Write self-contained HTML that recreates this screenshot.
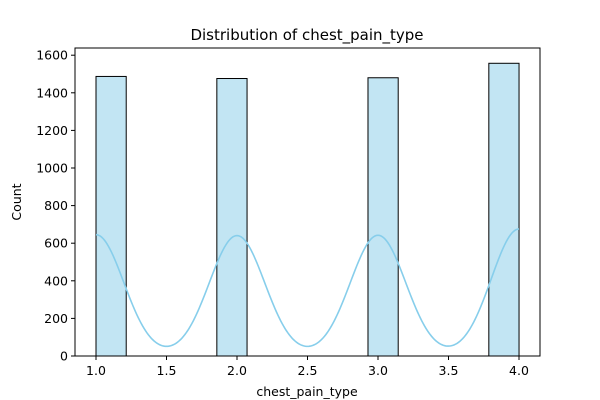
<!DOCTYPE html>
<html><head><meta charset="utf-8"><style>
body{margin:0;background:#fff;}
svg{display:block;font-family:"DejaVu Sans","Liberation Sans",sans-serif;}
</style></head><body>
<svg id="chart" width="600" height="400" viewBox="0 0 600 400">
<text x="307" y="40" text-anchor="middle" font-size="15">Distribution of chest_pain_type</text>
<g id="bars"></g>
<path id="kde" fill="none" stroke="#87ceeb" stroke-width="1.6"/>
<rect x="75" y="48" width="465" height="308" fill="none" stroke="#000" stroke-width="1"/>
<g id="xticks"></g>
<g id="yticks"></g>
<text x="307" y="396" text-anchor="middle" font-size="12.5">chest_pain_type</text>
<text transform="translate(21,202) rotate(-90)" text-anchor="middle" font-size="12.5">Count</text>
</svg>
<script>
const categories = [1, 2, 3, 4];
const binStarts = [1.0, 1.857, 2.929, 3.786];
const counts = [1487, 1476, 1480, 1557];
const xTicks = ["1.0", "1.5", "2.0", "2.5", "3.0", "3.5", "4.0"];
const yTicks = [0, 200, 400, 600, 800, 1000, 1200, 1400, 1600];
const binWidth = 3 / 14;
const bandwidth = 0.197;

const NS = "http://www.w3.org/2000/svg";
const xs = v => 96 + (v - 1) * 141;
const ys = v => 356 - v * 0.188;
function mk(tag, attrs, parent) {
  const e = document.createElementNS(NS, tag);
  for (const k in attrs) e.setAttribute(k, attrs[k]);
  parent.appendChild(e);
  return e;
}
const barsG = document.getElementById("bars");
binStarts.forEach((b, i) => {
  const r = mk("rect", {x: xs(b), y: ys(counts[i]), width: xs(b + binWidth) - xs(b), height: ys(0) - ys(counts[i]), fill: "#c2e5f3", stroke: "#000", "stroke-width": 1}, barsG);
  
  
});
let d = "";
for (let k = 0; k <= 300; k++) {
  const x = 1 + 3 * k / 300;
  let y = 0;
  categories.forEach((c, i) => {
    y += counts[i] * binWidth * Math.exp(-0.5 * Math.pow((x - c) / bandwidth, 2)) / (Math.sqrt(2 * Math.PI) * bandwidth);
  });
  d += (k ? "L" : "M") + xs(x).toFixed(2) + "," + ys(y).toFixed(2);
}
document.getElementById("kde").setAttribute("d", d);
const xg = document.getElementById("xticks");
xTicks.forEach(t => {
  const x = xs(parseFloat(t));
  const l = mk("line", {x1: x, x2: x, y1: 356, y2: 360, stroke: "#000"}, xg);
  
  
  const tx = mk("text", {x: x, y: 375, "text-anchor": "middle", "font-size": 12.5}, xg);
  tx.textContent = t;
  
  
});
const yg = document.getElementById("yticks");
yTicks.forEach(t => {
  const y = ys(t);
  const l = mk("line", {x1: 71, x2: 75, y1: y, y2: y, stroke: "#000"}, yg);
  
  
  const tx = mk("text", {x: 68, y: y + 4.5, "text-anchor": "end", "font-size": 12.5}, yg);
  tx.textContent = t;
  
  
});
</script>
</body></html>
